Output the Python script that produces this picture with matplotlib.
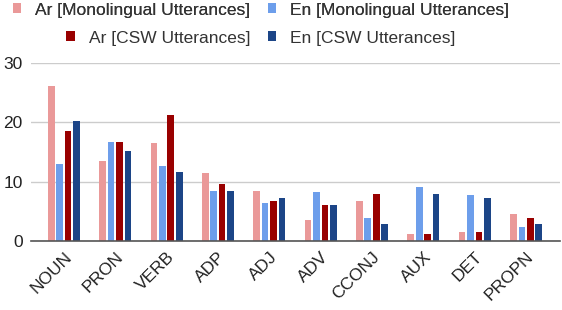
import numpy as np
import matplotlib
matplotlib.use('Agg')
import matplotlib.pyplot as plt

plt.rcParams['font.family'] = ['Liberation Sans', 'DejaVu Sans']

# POS tags and percentages per group
categories = ['NOUN', 'PRON', 'VERB', 'ADP', 'ADJ', 'ADV', 'CCONJ', 'AUX', 'DET', 'PROPN']
ar_mono = [26.2, 13.4, 16.5, 11.4, 8.5, 3.5, 6.8, 1.2, 1.5, 4.6]
en_mono = [12.9, 16.7, 12.6, 8.5, 6.4, 8.3, 3.9, 9.1, 7.7, 2.4]
ar_csw = [18.5, 16.7, 21.2, 9.6, 6.8, 6.0, 8.0, 1.2, 1.6, 3.9]
en_csw = [20.3, 15.2, 11.6, 8.5, 7.3, 6.0, 2.8, 8.0, 7.3, 2.9]

series = [
    ('Ar [Monolingual Utterances]', ar_mono, '#ea9999'),
    ('En [Monolingual Utterances]', en_mono, '#6d9eeb'),
    ('Ar [CSW Utterances]', ar_csw, '#990000'),
    ('En [CSW Utterances]', en_csw, '#1c4587'),
]

fig = plt.figure(figsize=(5.62, 3.10), dpi=100)
ax = fig.add_axes([31 / 562, 1 - 241 / 310, 529 / 562, 178 / 310])

x = np.arange(len(categories))
width = 0.13
step = 0.164
handles = []
for i, (label, vals, color) in enumerate(series):
    b = ax.bar(x + (i - 1.5) * step, vals, width, color=color, label=label, zorder=3)
    handles.append(b)

ax.set_xlim(-0.64, len(categories) - 0.34)
ax.set_ylim(0, 30)
ax.set_yticks([0, 10, 20, 30])
ax.grid(axis='y', color='#cccccc', linewidth=1, zorder=0)
for s in ['top', 'right', 'left']:
    ax.spines[s].set_visible(False)
ax.spines['bottom'].set_color('#555555')
ax.spines['bottom'].set_linewidth(1.2)
ax.spines['bottom'].set_zorder(4)

ax.set_xticks(x)
ax.set_xticklabels(categories, rotation=45, ha='right', va='top', rotation_mode='anchor')
ax.tick_params(axis='y', length=0, labelsize=12.5, colors='#222222', pad=6)
ax.tick_params(axis='x', length=0, labelsize=12.5, colors='#222222', pad=6)

leg_kw = dict(ncol=2, loc='center', frameon=False, fontsize=12.5,
              handlelength=0.5, handleheight=0.5, handletextpad=0.8,
              columnspacing=1.0, labelcolor='#333333')
leg1 = fig.legend(handles[:2], [s[0] for s in series[:2]],
                  bbox_to_anchor=(261 / 562, 1 - 10 / 310), **leg_kw)
leg2 = fig.legend(handles[2:], [s[0] for s in series[2:]],
                  bbox_to_anchor=(261 / 562, 1 - 38 / 310), **leg_kw)
fig.add_artist(leg1)

fig.savefig('out.png', dpi=100)
